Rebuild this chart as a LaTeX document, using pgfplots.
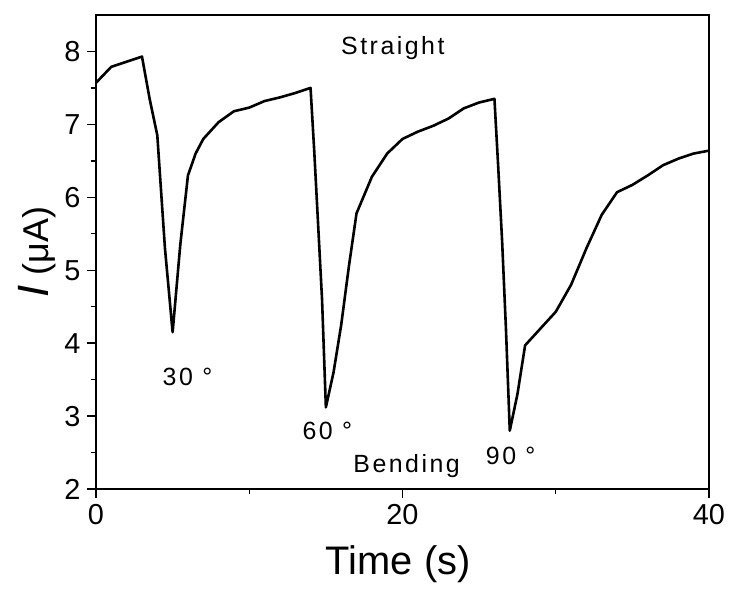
\documentclass[border=0pt]{standalone}
\usepackage{fontspec}
\setmainfont{Liberation Sans}
\newfontfamily\annfont[LetterSpace=10]{Liberation Sans}
\usepackage{pgfplots}
\pgfplotsset{compat=1.18}
\begin{document}
\begin{tikzpicture}
\begin{axis}[name=ax, scale only axis, width=613bp, height=474bp,
  xmin=0, xmax=40, ymin=2, ymax=8.5,
  xtick={0,20,40}, minor xtick={10,30},
  ytick={2,3,4,5,6,7,8}, minor ytick={2.5,3.5,4.5,5.5,6.5,7.5},
  tick align=outside, tick pos=left,
  major tick length=9bp, minor tick length=5bp,
  every tick/.style={black, line width=1.4bp},
  axis line style={line width=1.6bp},
  /pgf/number format/assume math mode=true,
  tick label style={font=\fontsize{29}{29}\selectfont},
  xticklabel style={yshift=-3bp},
  yticklabel style={xshift=-3bp},
  xlabel={Time (s)},
  xlabel style={font=\fontsize{40}{40}\selectfont, at={(axis description cs:0.493,-0.181)}, anchor=base},
  ylabel={{\fontsize{44}{44}\selectfont\itshape I} (μA)},
  ylabel style={font=\fontsize{36}{36}\selectfont, at={(axis description cs:-0.078,0.5)}, anchor=base},
  clip=false,
]
\addplot[black, line width=2.6bp, line join=round] coordinates {
(0,7.57) (1,7.79) (2,7.86) (3,7.93) (3.5,7.35) (4,6.85) (4.5,5.3) (5,4.15)
(5.5,5.35) (6,6.3) (6.5,6.6) (7,6.8) (8,7.03) (9,7.18) (10,7.23) (11,7.32) (12,7.37) (13,7.43) (14,7.5)
(14.25,6.6) (14.5,5.6) (14.75,4.6) (15,3.12)
(15.5,3.6) (16,4.25) (16.5,5.05) (17,5.78) (18,6.28) (19,6.6) (20,6.8) (21,6.9) (22,6.98) (23,7.08) (24,7.22) (25,7.3) (26,7.35)
(26.25,6.4) (26.5,5.4) (26.75,4.2) (27,2.8)
(27.5,3.3) (28,3.97) (29,4.2) (30,4.43) (31,4.8) (32,5.3) (33,5.76) (34,6.07) (35,6.17) (36,6.3) (37,6.44) (38,6.53) (39,6.6) (40,6.64)
};
\node[font=\annfont\fontsize{25}{25}\selectfont, anchor=base] at (axis cs:19.37,7.96) {Straight};
\node[font=\annfont\fontsize{25}{25}\selectfont, anchor=base] at (axis cs:5.97,3.425) {30 °};
\node[font=\annfont\fontsize{25}{25}\selectfont, anchor=base] at (axis cs:15.1,2.685) {60 °};
\node[font=\annfont\fontsize{25}{25}\selectfont, anchor=base] at (axis cs:27.06,2.34) {90 °};
\node[font=\annfont\fontsize{25}{25}\selectfont, anchor=base] at (axis cs:20.27,2.233) {Bending};
\end{axis}
\pgfresetboundingbox
\path[use as bounding box] ([xshift=-96bp,yshift=-104bp]ax.south west) rectangle ([xshift=23bp,yshift=15bp]ax.north east);
\end{tikzpicture}
\end{document}
